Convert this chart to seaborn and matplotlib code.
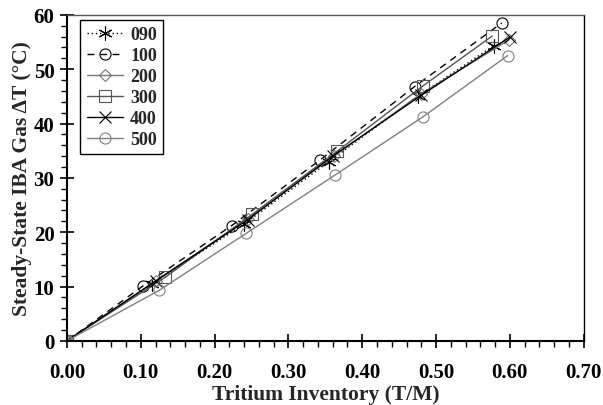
import matplotlib
matplotlib.use("Agg")
import matplotlib.pyplot as plt
import seaborn as sns
import pandas as pd
from matplotlib.ticker import MultipleLocator, FormatStrFormatter

sns.set_theme(style="white")
plt.rcParams['font.family'] = ['Liberation Serif', 'DejaVu Serif']
plt.rcParams['font.weight'] = 'bold'

series_names = ["090", "100", "200", "300", "400", "500"]
x_090 = [0.0, 0.115, 0.240, 0.355, 0.475, 0.578]
y_090 = [0.0, 10.5, 21.5, 33.0, 45.0, 54.3]
x_100 = [0.0, 0.103, 0.223, 0.343, 0.471, 0.589]
y_100 = [0.0, 10.1, 21.2, 33.3, 46.8, 58.5]
x_200 = [0.0, 0.120, 0.245, 0.362, 0.480, 0.599]
y_200 = [0.0, 11.0, 22.5, 34.0, 45.5, 55.4]
x_300 = [0.0, 0.133, 0.251, 0.366, 0.482, 0.576]
y_300 = [0.0, 11.7, 23.3, 34.9, 46.9, 56.1]
x_400 = [0.0, 0.120, 0.245, 0.360, 0.480, 0.600]
y_400 = [0.0, 11.0, 22.3, 34.0, 45.2, 55.9]
x_500 = [0.0, 0.125, 0.243, 0.363, 0.482, 0.597]
y_500 = [0.0, 9.3, 19.8, 30.5, 41.2, 52.5]

xs = [x_090, x_100, x_200, x_300, x_400, x_500]
ys = [y_090, y_100, y_200, y_300, y_400, y_500]

styles = {
    "090": dict(color="black", linestyle=(0, (1, 2)), marker=(6, 2, 0), mfc="black", ms=10, lw=1.0),
    "100": dict(color="black", linestyle=(0, (5, 4)), marker="o", mfc="none", ms=8, lw=1.0),
    "200": dict(color="#777777", linestyle="-", marker="D", mfc="none", ms=6, lw=1.0),
    "300": dict(color="#555555", linestyle="-", marker="s", mfc="none", ms=8, lw=1.0),
    "400": dict(color="black", linestyle="-", marker="x", mfc="black", ms=9, lw=1.0),
    "500": dict(color="#808080", linestyle="-", marker="o", mfc="none", ms=8, lw=1.0),
}

fig = plt.figure(figsize=(6.03, 4.06), dpi=100)
ax = fig.add_axes([0.111, 0.158, 0.857, 0.803])

for name, x, y in zip(series_names, xs, ys):
    df = pd.DataFrame({"x": x, "y": y})
    s = styles[name]
    sns.lineplot(data=df, x="x", y="y", ax=ax, label=name, color=s["color"],
                 linestyle=s["linestyle"], marker=s["marker"], markersize=s["ms"],
                 markerfacecolor=s["mfc"], markeredgecolor=s["color"],
                 markeredgewidth=0.8, linewidth=s["lw"], sort=False,
                 estimator=None)

ax.set_xlim(0, 0.70)
ax.set_ylim(0, 60)
ax.xaxis.set_major_locator(MultipleLocator(0.1))
ax.xaxis.set_minor_locator(MultipleLocator(0.02))
ax.yaxis.set_major_locator(MultipleLocator(10))
ax.yaxis.set_minor_locator(MultipleLocator(2))
ax.xaxis.set_major_formatter(FormatStrFormatter("%.2f"))
ax.tick_params(which="major", direction="inout", length=10, width=1.2, colors="black",
               labelsize=15)
ax.tick_params(which="minor", direction="out", length=4, width=1.0, colors="black")
ax.tick_params(axis="x", which="major", pad=10)
ax.tick_params(axis="y", which="major", pad=4)
ax.tick_params(axis="x", which="both", bottom=True, top=False)
ax.tick_params(axis="y", which="both", left=True, right=False)
for lbl in ax.get_xticklabels() + ax.get_yticklabels():
    lbl.set_fontweight("bold")

for side in ["left", "bottom"]:
    ax.spines[side].set_color("black")
    ax.spines[side].set_linewidth(1.5)
ax.spines["right"].set_color("black")
ax.spines["right"].set_linewidth(1.0)
ax.spines["top"].set_color("#555555")
ax.spines["top"].set_linewidth(1.0)

ax.set_xlabel("Tritium Inventory (T/M)", fontsize=15.5, fontweight="bold", labelpad=2)
ax.set_ylabel("Steady-State IBA Gas \u0394T (\u00b0C)", fontsize=15.5, fontweight="bold", labelpad=1)

leg = ax.legend(loc="upper left", bbox_to_anchor=(0.026, 0.985), frameon=True, fancybox=False,
                edgecolor="black", framealpha=1, fontsize=13, handlelength=2.0,
                labelspacing=0.22, borderpad=0.35, handletextpad=0.4, borderaxespad=0)
leg.get_frame().set_linewidth(1.0)
for t in leg.get_texts():
    t.set_fontweight("bold")

fig.savefig("out.png", dpi=100)
